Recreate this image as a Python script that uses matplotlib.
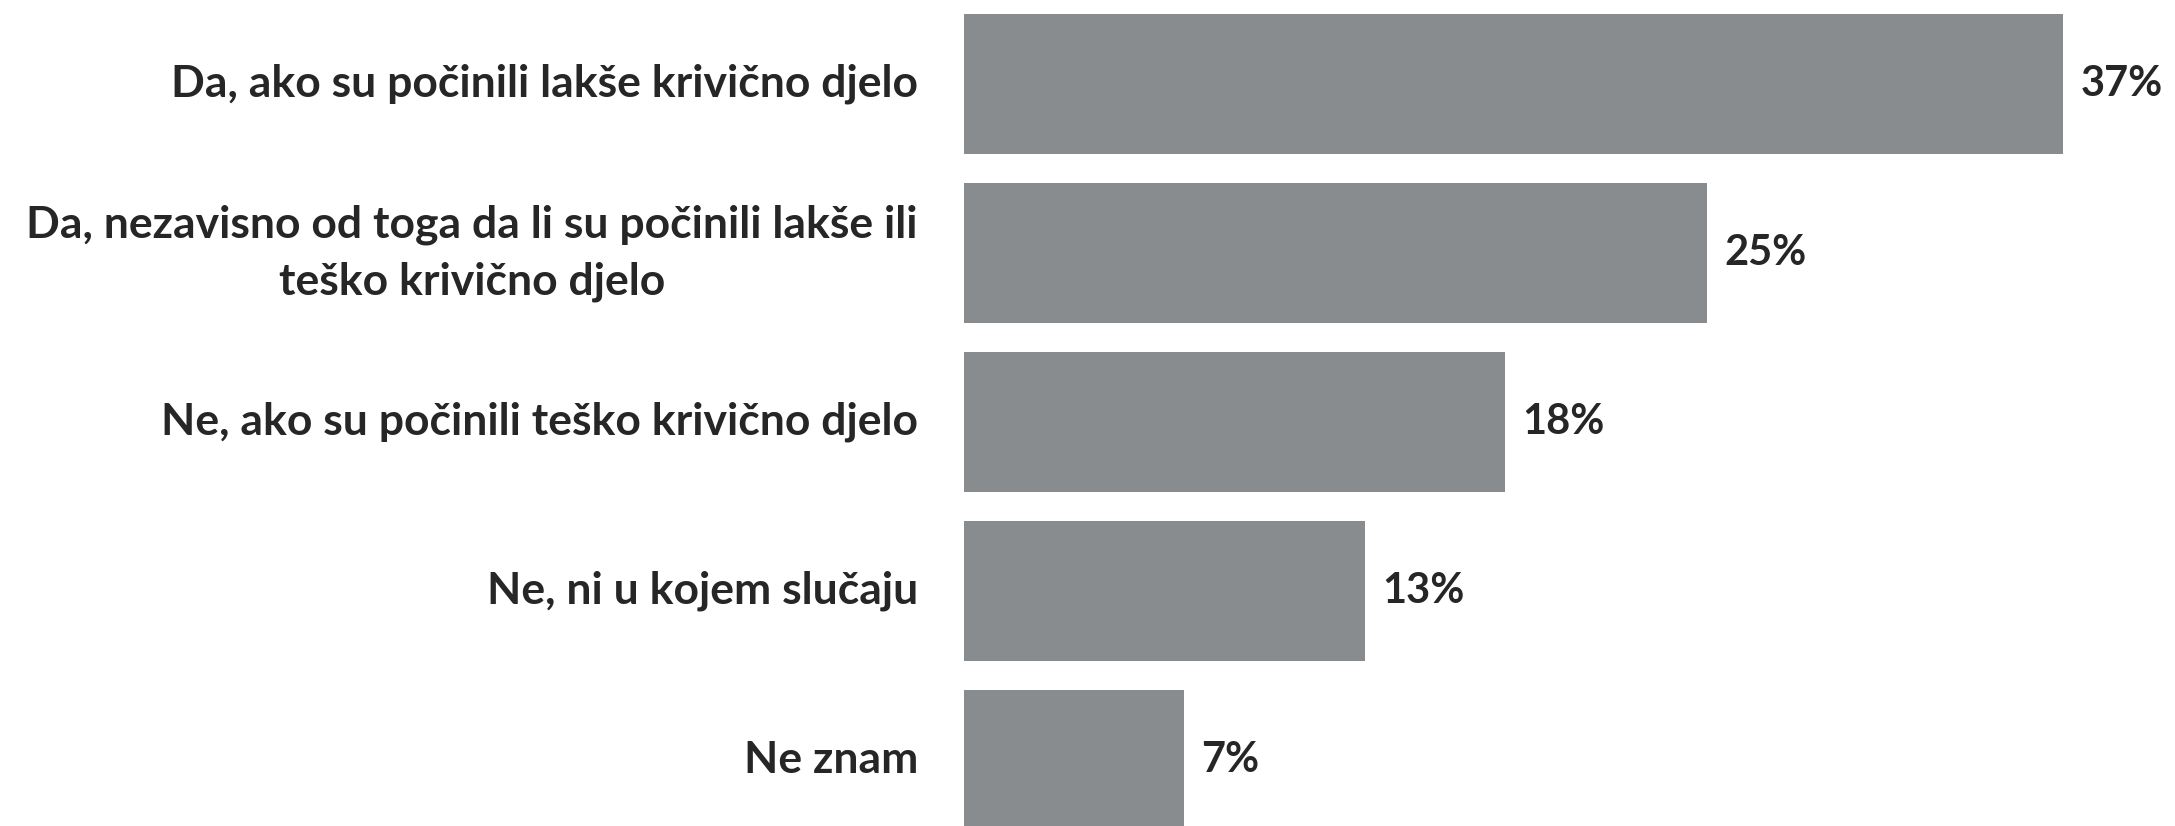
import matplotlib.pyplot as plt

# answer categories, top to bottom
categories = [
    "Da, ako su počinili lakše krivično djelo",
    "Da, nezavisno od toga da li su počinili lakše ili\nteško krivično djelo",
    "Ne, ako su počinili teško krivično djelo",
    "Ne, ni u kojem slučaju",
    "Ne znam",
]
values = [37.0, 25.0, 18.2, 13.5, 7.4]
value_labels = ["37%", "25%", "18%", "13%", "7%"]

bar_color = "#898c8f"
text_color = "#262626"

plt.rcParams['font.family'] = ['Lato', 'DejaVu Sans']

fig = plt.figure(figsize=(21.75, 8.26), dpi=100)
ax = fig.add_axes([964 / 2175, 0, 1 - 964 / 2175, 1])

pos = list(range(len(categories)))
ax.barh(pos, values, height=0.83, color=bar_color)

for p, v, lab in zip(pos, values, value_labels):
    ax.text(v + 0.6, p, lab, va='center', ha='left', fontsize=30,
            fontweight='bold', color=text_color)

for p, cat in zip(pos, categories):
    ax.text(-1.55, p, cat, va='center', ha='right', multialignment='center',
            fontsize=32, fontweight='bold', color=text_color, linespacing=1.5)

ax.set_xlim(0, 1211 / 29.7)
ax.set_ylim(4.391, -0.497)
ax.axis('off')

plt.savefig('out.png', dpi=100)
